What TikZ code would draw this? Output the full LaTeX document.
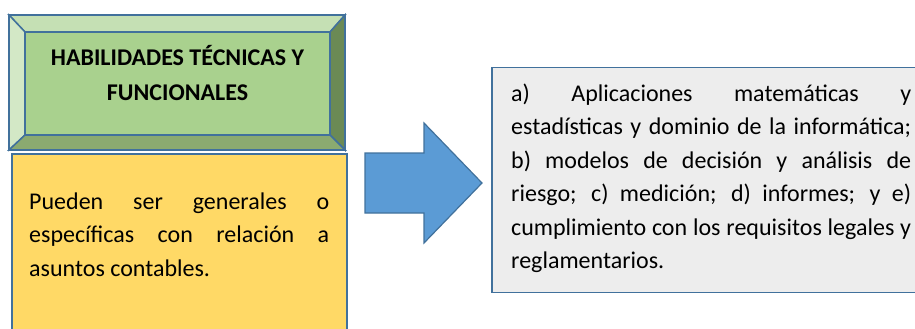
\documentclass[tikz,border=0pt]{standalone}
\usepackage{fontspec}
\setmainfont{Carlito}
\definecolor{edgeblue}{HTML}{41719C}
\definecolor{innergreen}{HTML}{A9D18E}
\definecolor{topgreen}{HTML}{C5E0B4}
\definecolor{leftgreen}{HTML}{D3E8C6}
\definecolor{rightgreen}{HTML}{6B8A55}
\definecolor{bottomgreen}{HTML}{8BAA70}
\definecolor{noteyellow}{HTML}{FFD966}
\definecolor{boxgrey}{HTML}{EDEDED}
\definecolor{arrowblue}{HTML}{5B9BD5}
\tikzset{
  edge/.style={draw=edgeblue, line width=1.5pt, line join=miter},
  bodytext/.style={inner sep=0pt, anchor=north west, align=justify},
}
\begin{document}
\begin{tikzpicture}[x=1pt,y=-1pt]
\useasboundingbox (0,0) rectangle (915,329);
\begin{scope}
\clip (0,0) rectangle (915,329);
% yellow box
\path[edge, fill=noteyellow] (12,154) rectangle (347,340);
% right grey box
\path[edge, fill=boxgrey] (492,67.5) rectangle (930,292.5);
\end{scope}
% bevel box
\coordinate (o1) at (9,15);
\coordinate (o2) at (345,15);
\coordinate (o3) at (345,150);
\coordinate (o4) at (9,150);
\coordinate (i1) at (25,32);
\coordinate (i2) at (330,32);
\coordinate (i3) at (330,135);
\coordinate (i4) at (25,135);
\path[edge, fill=topgreen] (o1) -- (o2) -- (i2) -- (i1) -- cycle;
\path[edge, fill=leftgreen] (o1) -- (i1) -- (i4) -- (o4) -- cycle;
\path[edge, fill=rightgreen] (o2) -- (o3) -- (i3) -- (i2) -- cycle;
\path[edge, fill=bottomgreen] (o4) -- (i4) -- (i3) -- (o3) -- cycle;
\path[edge, fill=innergreen] (i1) rectangle (i3);
\path[edge] (o1) rectangle (o3);
% block arrow
\path[draw=edgeblue, line width=1.2pt, fill=arrowblue, line join=miter]
  (365,153) -- (424,153) -- (424,123) -- (482,183) -- (424,243) -- (424,213) -- (365,213) -- cycle;
% texts
\node[inner sep=0pt, anchor=north, align=center, font=\bfseries\fontsize{24}{35}\selectfont] (title) at (177.5,40.5)
  {\strut HABILIDADES TÉCNICAS Y\\FUNCIONALES};
\node[bodytext, text width=300pt, font=\fontsize{24}{33.7}\selectfont] (note) at (29,185.4)
  {\hyphenpenalty=10000\tolerance=10000\strut Pueden ser generales o\linebreak específicas con relación a\linebreak asuntos contables.};
\node[bodytext, text width=400pt, font=\fontsize{24}{33.5}\selectfont] (list) at (511,77.5)
  {\hyphenpenalty=10000\tolerance=10000\strut a) Aplicaciones matemáticas y\linebreak estadísticas y dominio de la informática;\linebreak b) modelos de decisión y análisis de\linebreak riesgo; c) medición; d) informes; y e)\linebreak cumplimiento con los requisitos legales y\linebreak reglamentarios.};
\end{tikzpicture}
\end{document}
